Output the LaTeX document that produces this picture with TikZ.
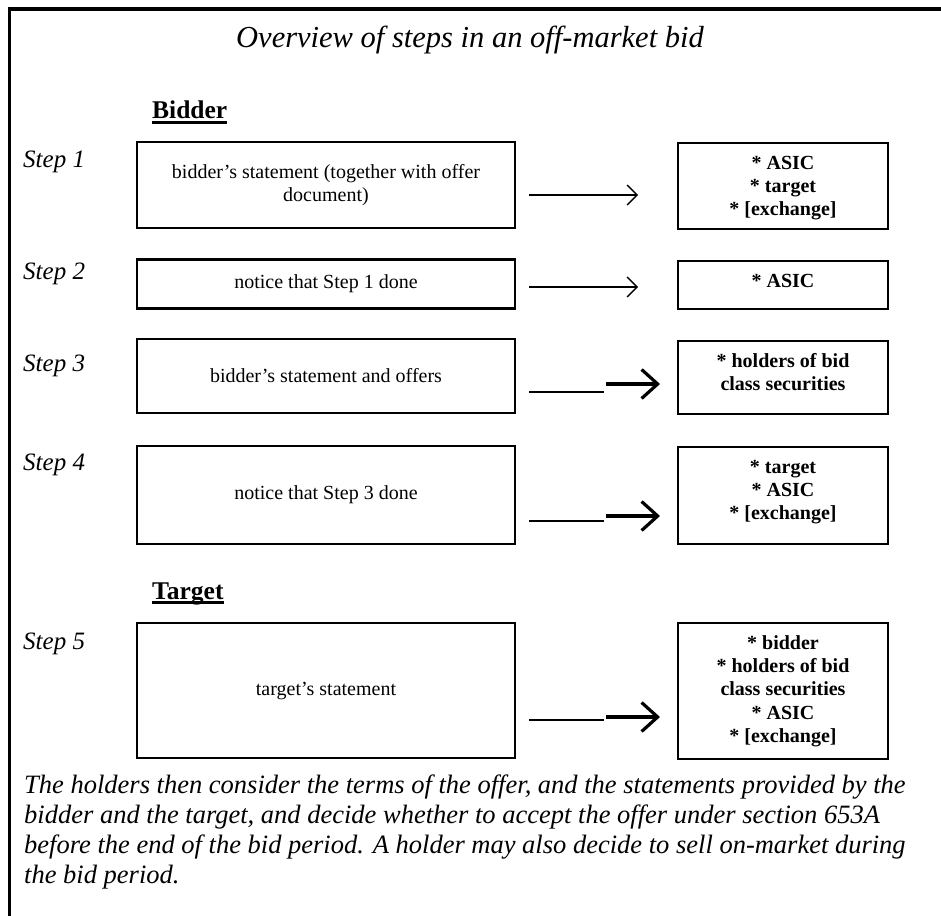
\documentclass[tikz,border=0pt]{standalone}
\usepackage{fontspec}
\setmainfont{Liberation Serif}
\usetikzlibrary{arrows.meta}

\begin{document}
\begin{tikzpicture}[x=1pt,y=-1pt,
    lbox/.style={draw, line width=2.4pt, minimum width=378pt, inner sep=0pt,
      align=center, font=\fontsize{20}{23.3}\selectfont},
    rbox/.style={draw, line width=2.4pt, inner sep=0pt, anchor=north,
      font=\fontsize{20}{23.3}\selectfont\bfseries},
    steplabel/.style={anchor=base west, inner sep=0pt,
      font=\fontsize{25}{30}\selectfont\itshape},
    heading/.style={anchor=base west, inner sep=0pt,
      font=\fontsize{25.5}{30}\selectfont\bfseries},
    uline/.style={line width=2.2pt},
    thinline/.style={line width=1.3pt},
    smallarrow/.style={line width=1.3pt,
      -{Straight Barb[length=10pt,width=20pt]}},
    bigarrow/.style={line width=3.2pt,
      -{Straight Barb[length=16pt,width=29pt]}}]

    \useasboundingbox (0,0) rectangle (941,915);
    \draw[line width=3.5pt] (9.5,920) -- (9.5,9) -- (945,9);

    \node[anchor=base, inner sep=0pt, font=\fontsize{30.5}{36}\selectfont\itshape]
      (title) at (470,48) {Overview of steps in an off-market bid};

    % headings
    \node[heading] (bidder) at (152,118) {Bidder};
    \draw[uline] ([yshift=-4.5pt]bidder.base west) -- ([yshift=-4.5pt]bidder.base east);
    \node[heading] (target) at (152,599) {Target};
    \draw[uline] ([yshift=-3.5pt]target.base west) -- ([yshift=-3.5pt]target.base east);

    % step labels
    \foreach \n/\y in {1/167, 2/279, 3/371, 4/470, 5/649}
      \node[steplabel] (step\n) at (23,\y) {Step \n};

    % what is sent
    \node[lbox, minimum height=86pt] (l1) at (326,185)
      {bidder’s statement (together with offer\\ document)};
    \node[lbox, minimum height=49pt] (l2) at (326,284) {notice that Step 1 done};
    \node[lbox, minimum height=74pt] (l3) at (326,376) {bidder’s statement and offers};
    \node[lbox, minimum height=98pt] (l4) at (326,495) {notice that Step 3 done};
    \node[lbox, minimum height=135pt] (l5) at (326,690.5) {target’s statement};

    % who receives it
    \node[rbox] (r1) at (783,142) {\parbox[c][86pt][t]{210pt}{\vspace*{9.7pt}\centering
      \strut{*} ASIC\\{*} target\\{*} [exchange]}};
    \node[rbox] (r2) at (783,260) {\parbox[c][48pt][t]{210pt}{\vspace*{9.7pt}\centering
      \strut{*} ASIC}};
    \node[rbox] (r3) at (783,340) {\parbox[c][73pt][t]{210pt}{\vspace*{9.7pt}\centering
      \strut{*} holders of bid\\class securities}};
    \node[rbox] (r4) at (783,446) {\parbox[c][97pt][t]{210pt}{\vspace*{9.7pt}\centering
      \strut{*} target\\{*} ASIC\\{*} [exchange]}};
    \node[rbox] (r5) at (783,622) {\parbox[c][136pt][t]{210pt}{\vspace*{9.7pt}\centering
      \strut{*} bidder\\{*} holders of bid\\class securities\\{*} ASIC\\{*} [exchange]}};

    % arrows
    \foreach \n/\y in {1/195, 2/287} {
      \coordinate (a\n s) at (529,\y);
      \coordinate (a\n e) at (638,\y);
      \draw[smallarrow] (a\n s) -- (a\n e);
    }
    \foreach \n/\ya/\yb in {3/392/384, 4/521/516, 5/720/717} {
      \coordinate (t\n s) at (529,\ya);
      \coordinate (t\n e) at (604,\ya);
      \coordinate (a\n s) at (606,\yb);
      \coordinate (a\n e) at (660,\yb);
      \draw[thinline] (t\n s) -- (t\n e);
      \draw[bigarrow] (a\n s) -- (a\n e);
    }

    \node[anchor=base west, inner sep=0pt, align=left,
      font=\fontsize{26.5}{30}\selectfont\itshape] (note) at (24,883)
      {The holders then consider the terms of the offer, and the statements provided by the\\
       bidder and the target, and decide whether to accept the offer under section 653A\\
       before the end of the bid period. A holder may also decide to sell on-market during\\
       the bid period.};
  \end{tikzpicture}
\end{document}
